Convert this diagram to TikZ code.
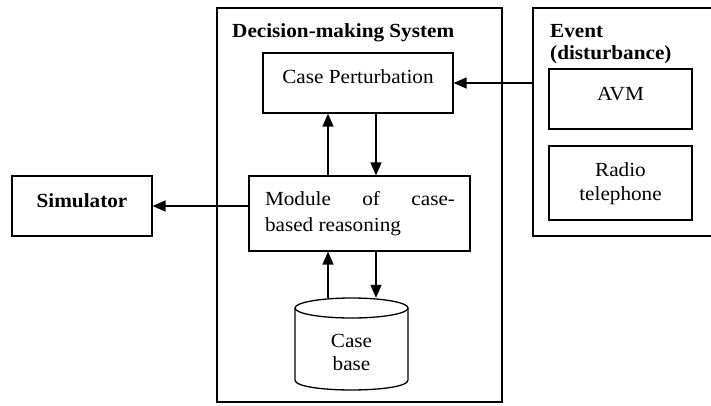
\documentclass[tikz,border=0pt]{standalone}
\usepackage{fontspec}
\setmainfont{Liberation Serif}[FakeStretch=1.06]
\usetikzlibrary{arrows.meta}
\begin{document}
\begin{tikzpicture}[x=1pt,y=-1pt,
  box/.style={draw,line width=1.3pt,inner sep=0pt},
  lbl/.style={inner sep=0pt,font=\fontsize{20}{24}\selectfont},
  bold/.style={inner sep=0pt,font=\fontsize{20}{24}\selectfont\bfseries},
  arr/.style={line width=1.4pt,-{Triangle[length=13pt,width=11pt]}}]
\useasboundingbox[fill=white] (0,0) rectangle (711,405);
% containers
\node[box,minimum width=285,minimum height=394] (dms) at (359.5,205) {};
\node[bold,anchor=base west] (dmst) at (232,37) {Decision-making System};
\node[box,minimum width=197,minimum height=228] (ev) at (631.5,122) {};
\node[bold,anchor=base west] (evt1) at (550,37) {Event};
\node[bold,anchor=base west] (evt2) at (550,59) {(disturbance)};
% event sources
\node[box,minimum width=143,minimum height=60] (avm) at (620.5,99) {};
\node[lbl] (avmt) at (620.5,94) {AVM};
\node[box,minimum width=143,minimum height=74] (rad) at (620.5,183) {};
\node[lbl,align=center] (radt) at (620.5,184) {Radio\\telephone};
% decision system parts
\node[box,minimum width=190,minimum height=60] (cp) at (358,83) {};
\node[lbl] (cpt) at (358,77) {Case Perturbation};
\node[box,minimum width=221,minimum height=75] (mod) at (359.5,213.5) {};
\node[lbl,font=\fontsize{20}{26}\selectfont,align=left] (modt) at (360,214)
  {\makebox[190pt][s]{Module of case-}\\based reasoning};
% case base (cylinder)
\node[inner sep=0pt,minimum width=113,minimum height=92] (cb) at (351.5,344) {};
\draw[line width=1.3pt] (351.5,308) ellipse [x radius=56.5, y radius=10];
\draw[line width=1.3pt] (295,308) -- (295,380)
  .. controls (295,393.3) and (408,393.3) .. (408,380) -- (408,308);
\node[lbl,font=\fontsize{20}{23}\selectfont,align=center] (cbt) at (351.5,352) {Case\\base};
% simulator
\node[box,minimum width=140,minimum height=60] (sim) at (82,206) {};
\node[bold] (simt) at (82,201) {Simulator};
% connectors
\coordinate (xl) at (328,0);
\coordinate (xr) at (376,0);
\draw[arr] (ev.west |- cp.east) -- (cp.east);
\draw[arr] (mod.west |- sim.east) -- (sim.east);
\draw[arr] (mod.north -| xl) -- (cp.south -| xl);
\draw[arr] (cp.south -| xr) -- (mod.north -| xr);
\draw[arr] (cb.north -| xl) -- (mod.south -| xl);
\draw[arr] (mod.south -| xr) -- (cb.north -| xr);
\end{tikzpicture}
\end{document}
